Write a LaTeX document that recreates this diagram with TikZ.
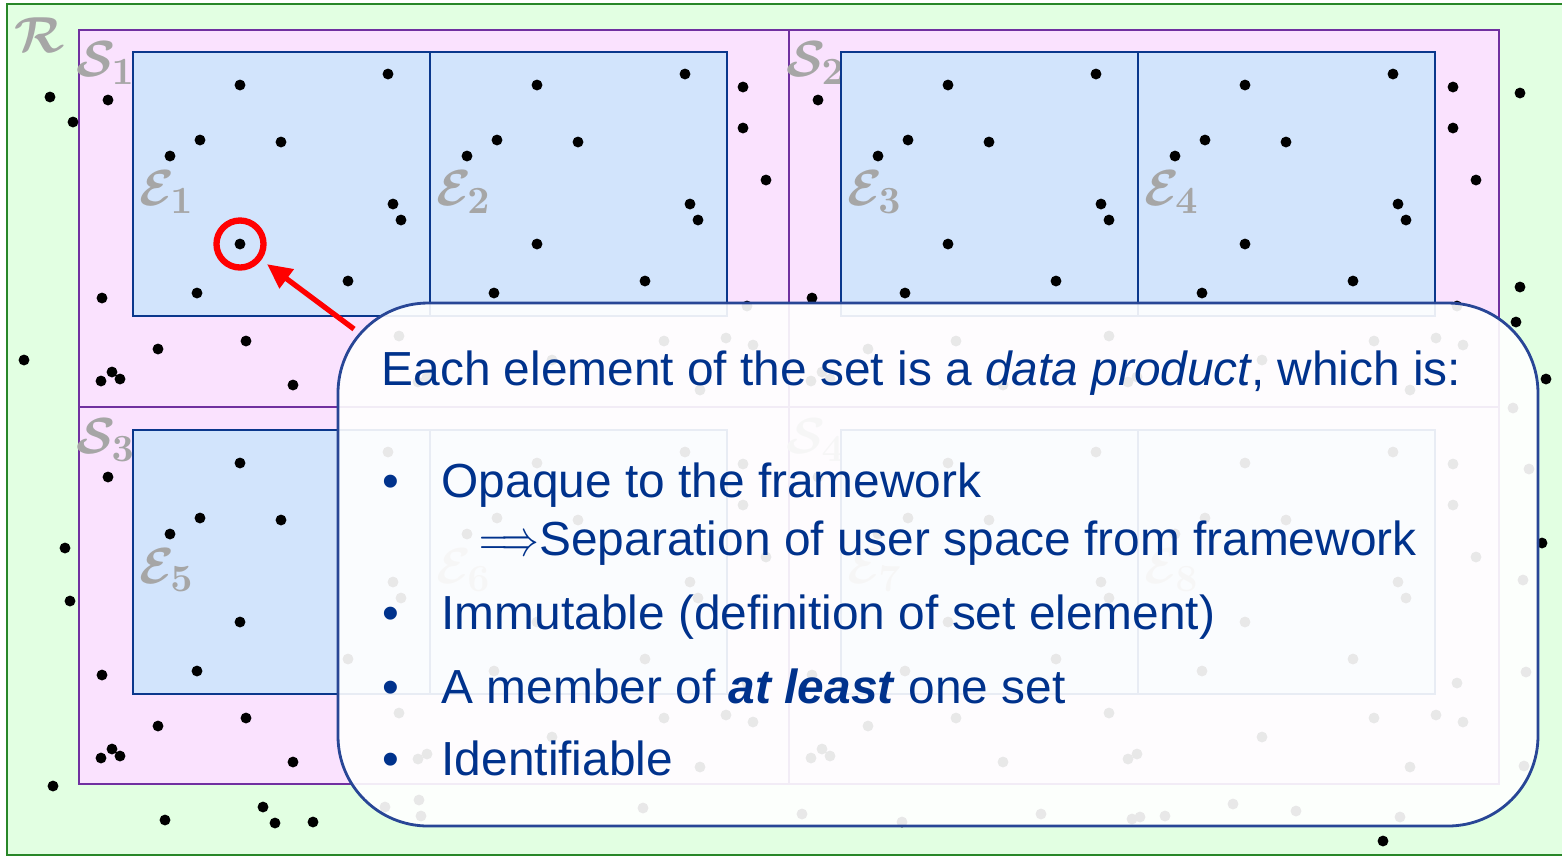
\documentclass[tikz,border=0pt]{standalone}
\usepackage[no-math]{fontspec}
\setmainfont{Liberation Sans}
\usetikzlibrary{arrows.meta}

\definecolor{rfill}{RGB}{226,255,226}
\definecolor{rline}{RGB}{40,135,40}
\definecolor{sfill}{RGB}{250,226,254}
\definecolor{sline}{RGB}{112,48,160}
\definecolor{efill}{RGB}{210,228,252}
\definecolor{eline}{RGB}{10,55,140}
\definecolor{callline}{RGB}{40,70,150}
\definecolor{txtblue}{RGB}{0,50,140}
\definecolor{lblgray}{RGB}{166,166,166}
\definecolor{markred}{RGB}{255,0,0}

\tikzset{
  setlbl/.style={text=lblgray, inner sep=0, font=\fontsize{15}{15}\selectfont\boldmath},
  setbox/.style={draw=sline, fill=sfill, line width=0.6pt},
  elbox/.style={draw=eline, fill=efill, line width=0.6pt},
  body/.style={text=txtblue, anchor=base west, inner sep=0, font=\fontsize{13.6}{16}\selectfont},
  callout/.style={draw=callline, line width=0.8pt, fill=white, fill opacity=0.91, rounded corners=0.9cm},
}

\begin{document}
\begin{tikzpicture}[x=0.01cm, y=-0.01cm]
    \useasboundingbox (0,0) rectangle (1562,856);
    % the whole region
    \fill[rfill] (7,4) rectangle (1562,855);
    \draw[rline, line width=0.7pt] (1562,4) -- (7,4) -- (7,855) -- (1562,855);
    \node[setlbl, font=\fontsize{13.5}{13.5}\selectfont\boldmath] (r) at (40,35) {$\mathcal{R}$};

    % sets
    \foreach \sx/\sy/\i in {79/30/1, 789/30/2, 79/407/3, 789/407/4} {
        \draw[setbox] (\sx,\sy) rectangle ++(710,377);
        \node[setlbl] (s\i) at (\sx+27,\sy+33) {$\mathcal{S}_{\i}$};
    }
    % elements
    \foreach \ex/\ey/\i in {133/52/1, 430/52/2, 841/52/3, 1138/52/4, 133/430/5, 430/430/6, 841/430/7, 1138/430/8} {
        \draw[elbox] (\ex,\ey) rectangle ++(297,264);
        \node[setlbl] (e\i) at (\ex+34,\ey+140) {$\mathcal{E}_{\i}$};
    }

    % points
    \foreach \sx/\sy in {79/30, 789/30, 79/407, 789/407}
        \foreach \dx/\dy in {29/70, 23/268, 79/319, 167/311, 22/351, 33/342, 41/349, 214/355, 664/57, 664/98, 687/150, 668/276, 320/306, 585/311, 647/308, 674/315, 621/360, 339/352, 348/347, 473/330}
            \fill (\sx+\dx,\sy+\dy) circle[radius=1.55pt];
    \foreach \ex/\ey in {133/52, 430/52, 841/52, 1138/52, 133/430, 430/430, 841/430, 1138/430}
        \foreach \dx/\dy in {107/33, 255/22, 67/88, 37/104, 148/90, 260/152, 268/168, 107/192, 64/241, 215/229}
            \fill (\ex+\dx,\ey+\dy) circle[radius=1.55pt];
    \foreach \px/\py in {50/97, 73/122, 24/360, 65/548, 70/601, 53/786, 165/820, 263/807, 275/823, 313/822,
        1520/93, 1520/287, 1516/322, 1546/379, 1542/543, 1383/841, 1529/469, 1523/580, 1526/672, 1524/766, 1513/408,
        385/807, 419/800, 421/816, 643/808, 802/814, 902/822, 1041/814, 1132/819, 1140/817, 1165/816, 1233/804, 1296/811, 1400/817}
        \fill (\px,\py) circle[radius=1.55pt];

    % marked element
    \node[draw=markred, line width=1.8pt, circle, minimum size=0.47cm, inner sep=0] (mark) at (240,244) {};
    \coordinate (tail) at (354,329);
    \draw[markred, line width=1.5pt, -{Triangle[length=7pt,width=6.5pt]}, shorten >=2pt] (tail) -- (mark);

    % callout
    \draw[callout] (338,303) rectangle (1538,826);
    \node[body] (head) at (381,385) {Each element of the set is a \textit{data product}, which is:};
    \foreach \y/\n in {497/1, 629/2, 703/3, 775/4}
        \node[body] (bul\n) at (382,\y) {\textbullet};
    \node[body] (opaque) at (441,497) {Opaque to the framework};
    \node[body] (sep) at (479,555) {\scalebox{0.74}[1]{$\Longrightarrow$}Separation of user space from framework};
    \node[body] (immut) at (441,629) {Immutable (definition of set element)};
    \node[body] (member) at (441,703) {A member of \textbf{\textit{at least}} one set};
    \node[body] (ident) at (441,775) {Identifiable};
\end{tikzpicture}
\end{document}
